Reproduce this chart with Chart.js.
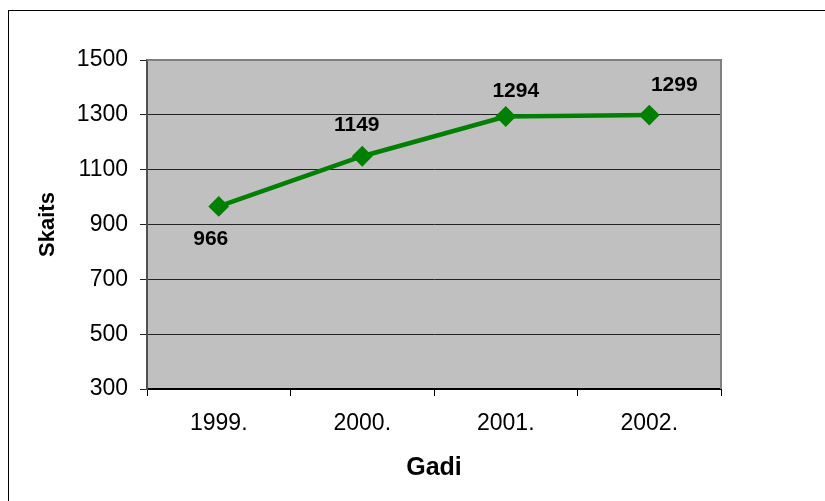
<!DOCTYPE html>
<html>
<head>
<meta charset="utf-8">
<script src="https://cdn.jsdelivr.net/npm/chart.js@4.4.0/dist/chart.umd.min.js"></script>
<style>
  html, body { margin: 0; padding: 0; background: #fff; }
  #wrap { width: 825px; height: 501px; }
</style>
</head>
<body>
<div id="wrap"><canvas id="c" width="825" height="501"></canvas></div>
<script>
const categories = ['1999.', '2000.', '2001.', '2002.'];
const skaits = [966, 1149, 1294, 1299];
const yMin = 300, yMax = 1500, yStep = 200;
const xTitle = 'Gadi';
const yTitle = 'Skaits';

const FONT = "'Liberation Sans', Arial, sans-serif";
const GREEN = '#008000';

const framePlugin = {
  id: 'frame',
  beforeDraw(chart) {
    const ctx = chart.ctx;
    const a = chart.chartArea;
    ctx.save();
    ctx.fillStyle = '#ffffff';
    ctx.fillRect(0, 0, chart.width, chart.height);
    ctx.strokeStyle = '#000000';
    ctx.lineWidth = 1;
    ctx.strokeRect(8.5, 10.5, chart.width + 50, chart.height + 50);
    ctx.fillStyle = '#C0C0C0';
    ctx.fillRect(a.left, a.top, a.right - a.left, a.bottom - a.top);
    ctx.restore();
  },
  beforeDatasetsDraw(chart) {
    const ctx = chart.ctx;
    const a = chart.chartArea;
    ctx.save();
    ctx.strokeStyle = '#808080';
    ctx.lineWidth = 2;
    ctx.beginPath();
    ctx.moveTo(a.left, a.top);
    ctx.lineTo(a.right, a.top);
    ctx.lineTo(a.right, a.bottom);
    ctx.stroke();
    ctx.restore();
  }
};

const labelPlugin = {
  id: 'pointLabels',
  afterDatasetsDraw(chart, args, opts) {
    const ctx = chart.ctx;
    const meta = chart.getDatasetMeta(0);
    const data = chart.data.datasets[0].data;
    ctx.save();
    ctx.font = 'bold 21px ' + FONT;
    ctx.fillStyle = '#000';
    ctx.textAlign = 'center';
    ctx.textBaseline = 'middle';
    meta.data.forEach((pt, i) => {
      const off = opts.offsets[i] || [0, -25];
      ctx.fillText(String(data[i]), pt.x + off[0], pt.y + off[1]);
    });
    ctx.restore();
  }
};

new Chart(document.getElementById('c'), {
  type: 'line',
  data: {
    labels: categories,
    datasets: [{
      data: skaits,
      borderColor: GREEN,
      backgroundColor: GREEN,
      borderWidth: 4.5,
      pointStyle: 'rectRot',
      pointRadius: 9,
      pointBorderWidth: 2,
      pointBorderColor: GREEN,
      pointBackgroundColor: GREEN,
      tension: 0
    }]
  },
  options: {
    responsive: false,
    animation: false,
    events: [],
    layout: { padding: { left: 0, top: 60, right: 104, bottom: 0 } },
    plugins: {
      legend: { display: false },
      tooltip: { enabled: false },
      pointLabels: { offsets: [[-8, 33], [-5.5, -31], [10, -25], [25, -30]] }
    },
    scales: {
      x: {
        offset: true,
        afterFit(s) { s.height = 112; },
        grid: { offset: true, drawOnChartArea: false, color: '#000', tickLength: 7 },
        border: { color: '#000', width: 2 },
        ticks: { color: '#000', font: { family: FONT, size: 23 }, padding: 14, maxRotation: 0 },
        title: { display: true, text: xTitle, color: '#000', font: { family: FONT, size: 25, weight: 'bold' }, padding: { top: 0, bottom: 18 } }
      },
      y: {
        min: yMin, max: yMax,
        afterFit(s) { s.width = 147; },
        grid: { color: '#222', tickLength: 7 },
        border: { color: '#505050', width: 2 },
        ticks: { stepSize: yStep, color: '#000', font: { family: FONT, size: 23 }, padding: 12,
                 callback: (v) => String(v) },
        title: { display: true, text: yTitle, color: '#000', font: { family: FONT, size: 22, weight: 'bold' }, padding: { top: 35, bottom: 0 } }
      }
    }
  },
  plugins: [framePlugin, labelPlugin]
});
</script>
</body>
</html>
